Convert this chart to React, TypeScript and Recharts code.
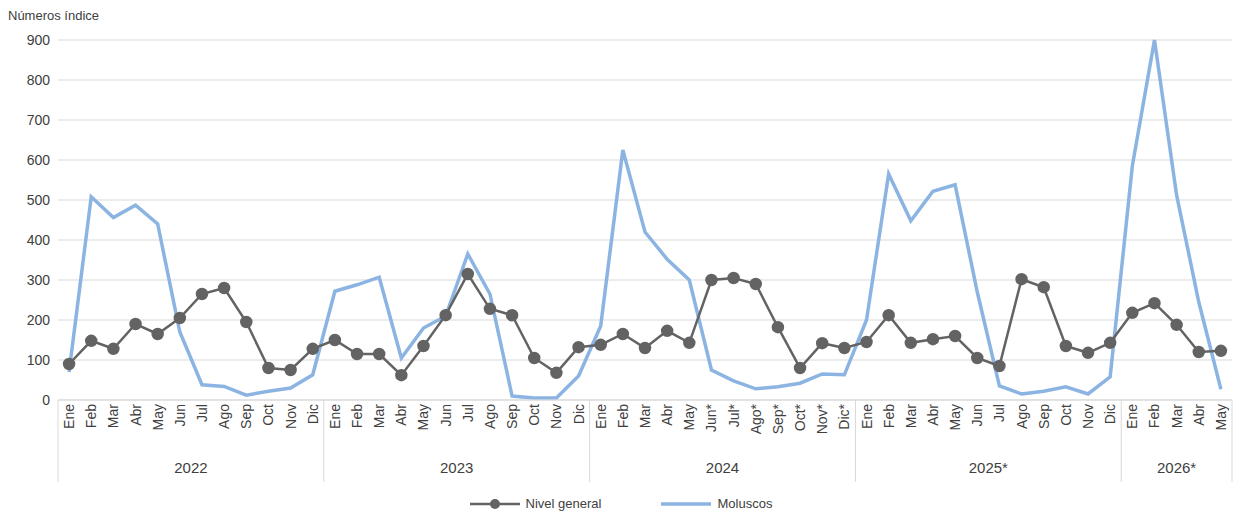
import React from "react";
import { LineChart, Line, XAxis, YAxis, CartesianGrid } from "recharts";

const months = ["Ene","Feb","Mar","Abr","May","Jun","Jul","Ago","Sep","Oct","Nov","Dic",
"Ene","Feb","Mar","Abr","May","Jun","Jul","Ago","Sep","Oct","Nov","Dic",
"Ene","Feb","Mar","Abr","May","Jun*","Jul*","Ago*","Sep*","Oct*","Nov*","Dic*",
"Ene","Feb","Mar","Abr","May","Jun","Jul","Ago","Sep","Oct","Nov","Dic",
"Ene","Feb","Mar","Abr","May"];
const years = [{ label: "2022", start: 0, n: 12 }, { label: "2023", start: 12, n: 12 }, { label: "2024", start: 24, n: 12 }, { label: "2025*", start: 36, n: 12 }, { label: "2026*", start: 48, n: 5 }];
const nivelGeneral = [90,148,128,190,165,205,265,280,195,80,75,128,
150,115,115,62,135,212,315,228,212,105,68,132,
138,165,130,173,143,300,305,290,182,80,142,130,
145,212,143,152,160,105,85,302,282,135,118,143,
218,242,188,120,123];
const moluscos = [70,508,456,487,440,170,38,34,12,22,30,63,
272,288,307,105,180,210,365,265,10,5,5,60,
185,625,420,352,300,75,48,28,33,42,65,63,
200,565,448,522,538,270,35,15,22,33,15,58,
585,900,512,245,27];
const yTicks = [0,100,200,300,400,500,600,700,800,900];

const data = months.map((m, i) => ({ i, m, g: nivelGeneral[i], mo: moluscos[i] }));
const FONT = "'Liberation Sans', Arial, sans-serif";
const GRAY = "#636363";
const BLUE = "#8cb4e2";
const PLOT_W = 1242 - 58 - 10;
const BAND = PLOT_W / months.length;

const MonthTick = (props: any) => {
  const { x, y, payload } = props;
  const idx = payload.value;
  const top = y - 8;
  const els: any[] = [];
  years.forEach((yr, k) => {
    if (idx === yr.start) {
      const x0 = x - BAND / 2;
      els.push(<line key="s" x1={x0} x2={x0} y1={top} y2={top + 82} stroke="#d9d9d9" />);
    }
    if (idx === yr.start + yr.n - 1) {
      const xm = x - ((yr.n - 1) * BAND) / 2;
      els.push(<text key="t" x={xm} y={top + 73} textAnchor="middle" fontSize={15} fill="#404040" fontFamily={FONT}>{yr.label}</text>);
      if (k === years.length - 1) els.push(<line key="e" x1={x + BAND / 2} x2={x + BAND / 2} y1={top} y2={top + 82} stroke="#d9d9d9" />);
    }
  });
  return (
    <g>
      <text x={x} y={top + 4} transform={`rotate(-90 ${x} ${top + 4})`} textAnchor="end" dominantBaseline="central" fontSize={14} fill="#404040" fontFamily={FONT}>
        {months[idx]}
      </text>
      {els}
    </g>
  );
};

export default function App() {
  return (
    <div style={{ position: "absolute", left: 0, top: 0, width: 1242, height: 513, background: "#fff" }}>
      <div style={{ position: "absolute", left: 8, top: 8, fontFamily: FONT, fontSize: 13, color: "#404040" }}>Números índice</div>
      <LineChart width={1242} height={513} data={data} margin={{ top: 40, right: 10, bottom: 33, left: 8 }}>
        <CartesianGrid vertical={false} stroke="#d9d9d9" />
        <XAxis dataKey="i" type="number" domain={[-0.5, months.length - 0.5]} ticks={data.map(d => d.i)} interval={0} tick={<MonthTick />} tickLine={false} axisLine={{ stroke: "#d9d9d9" }} height={80} />
        <YAxis domain={[0, 900]} ticks={yTicks} width={50} tickLine={false} axisLine={false} tick={{ fontSize: 14, fill: "#404040", fontFamily: FONT }} />
        <Line dataKey="mo" stroke={BLUE} strokeWidth={3.5} dot={false} isAnimationActive={false} />
        <Line dataKey="g" stroke={GRAY} strokeWidth={2.5} dot={{ r: 5, fill: GRAY, stroke: GRAY }} isAnimationActive={false} />
      </LineChart>
      <div style={{ position: "absolute", left: 0, top: 496, width: 1242, display: "flex", justifyContent: "center", gap: 60, fontFamily: FONT, fontSize: 13, color: "#404040" }}>
        <div style={{ display: "flex", alignItems: "center", gap: 6 }}>
          <svg width={50} height={14}><line x1={0} x2={50} y1={7} y2={7} stroke={GRAY} strokeWidth={2.5} /><circle cx={25} cy={7} r={5} fill={GRAY} /></svg>
          Nivel general
        </div>
        <div style={{ display: "flex", alignItems: "center", gap: 6 }}>
          <svg width={50} height={14}><line x1={0} x2={50} y1={7} y2={7} stroke={BLUE} strokeWidth={3.5} /></svg>
          Moluscos
        </div>
      </div>
    </div>
  );
}
